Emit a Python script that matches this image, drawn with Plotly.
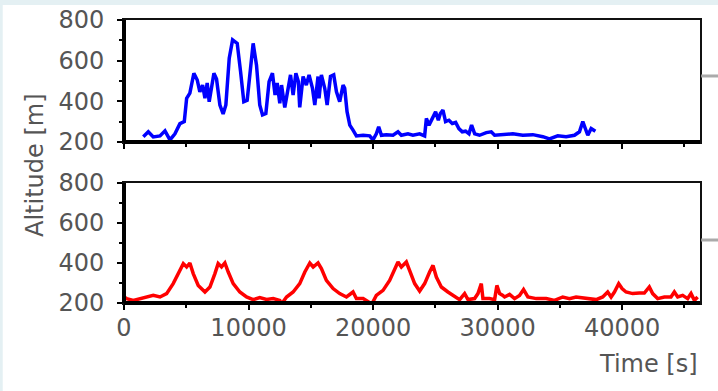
import plotly.graph_objects as go

# ---- data ----
blue_t = [0, 120, None,
          1550, 1950, 2350, 2890, 3290, 3690, 4090, 4490, 4840, 5030, 5290, 5610, 5880,
          6090, 6310, 6500, 6680, 6840, 7220, 7430, 7700, 7960, 8180, 8450, 8720, 9090,
          9360, 9620, 9890, 10100, 10370, 10640, 10900, 11120, 11390, 11650, 11920, 12130,
          12300, 12510, 12650, 12910, 13180, 13370, 13580, 13800, 14000, 14110, 14380,
          14640, 14860, 15130, 15320, 15580, 15660, 15850, 16120, 16310, 16580, 16840,
          17060, 17320, 17590, 17720, 17910, 18130, 18390, 18660, 19200, 19730, 19990,
          20260, 20450, 20670, 21070, 21600, 22000, 22270, 22800, 23200, 23740, 24140,
          24280, 24490, 24760, 25020, 25240, 25400, 25610, 25820, 26090, 26360, 26630,
          26890, 27160, 27430, 27700, 27910, 28160, 28550, 29090, 29490, 29760, 30290,
          30820, 31220, 32020, 32830, 33630, 34160, 34830, 35500, 36170, 36570, 36840,
          37050, 37240, 37510, 37850]
blue_alt = [225, 225, None,
            226, 250, 225, 230, 255, 210, 240, 290, 300, 415, 440, 538, 505,
            447, 480, 415, 490, 398, 538, 510, 382, 338, 382, 612, 702, 685,
            546, 398, 405, 546, 685, 578, 382, 333, 340, 497, 538, 431,
            490, 390, 480, 370, 460, 530, 431, 538, 497, 370, 522,
            480, 530, 465, 382, 522, 415, 530, 464, 382, 522, 530,
            447, 398, 480, 464, 349, 283, 258, 230, 233, 230, 210,
            240, 275, 233, 236, 233, 250, 233, 240, 233, 240, 230,
            316, 283, 316, 349, 307, 340, 357, 300, 307, 291, 296,
            266, 250, 253, 240, 283, 240, 233, 246, 250, 233, 236,
            240, 240, 233, 236, 226, 215, 230, 226, 233, 250, 300,
            258, 233, 266, 253]

red_t = [0, 210, 750, 1280, 1820, 2350, 2890, 3420, 3950, 4360, 4760, 5030, 5290, 5560,
         5960, 6500, 6900, 7300, 7560, 7830, 8100, 8370, 8770, 9300, 9840, 10370, 10900,
         11440, 11980, 12510, 12650, 13050, 13580, 14110, 14520, 14920, 15190, 15580,
         15850, 16250, 16790, 17320, 17860, 18390, 18660, 19200, 19730, 19900, 20260,
         20800, 21330, 21730, 22000, 22270, 22670, 22930, 23340, 23740, 24140, 24540,
         24810, 25080, 25480, 26010, 26410, 26950, 27350, 27620, 28150, 28420, 28690,
         28820, 29350, 29760, 29940, 30160, 30420, 30560, 30960, 31360, 31760, 32080,
         32430, 33100, 33900, 34570, 35230, 35770, 36300, 37100, 37910, 38440, 38840,
         39110, 39380, 39720, 39990, 40310, 40840, 41380, 41780, 42180, 42450, 42850,
         43390, 43920, 44190, 44460, 44860, 45260, 45530, 45800, 46060]
red_alt = [230, 222, 213, 222, 230, 238, 230, 247, 297, 347, 397, 380, 400, 347,
           288, 255, 280, 347, 397, 380, 400, 355, 297, 255, 230, 217, 227,
           218, 222, 213, 195, 230, 255, 297, 355, 400, 380, 400,
           372, 313, 272, 247, 230, 255, 222, 222, 205, 195, 238,
           263, 313, 363, 405, 380, 405, 363, 297, 260, 297, 355,
           388, 330, 280, 255, 238, 217, 247, 217, 222, 247, 297,
           222, 222, 217, 288, 247, 238, 230, 243, 222, 238, 267,
           230, 222, 222, 213, 230, 222, 230, 222, 217, 230, 255,
           230, 255, 297, 272, 255, 247, 250, 250, 280, 247, 222,
           230, 230, 255, 230, 238, 222, 247, 213, 230]

x_ticks = [0, 10000, 20000, 30000, 40000]
y_ticks = [200, 400, 600, 800]

FONT = "DejaVu Sans, Verdana, sans-serif"
FSIZE = 24
TXT = "#555555"

fig = go.Figure()
fig.add_trace(go.Scatter(x=blue_t, y=blue_alt, mode="lines", xaxis="x", yaxis="y",
                         line=dict(color="#0000ff", width=3.5), connectgaps=False,
                         showlegend=False, hoverinfo="skip"))
fig.add_trace(go.Scatter(x=red_t, y=red_alt, mode="lines", xaxis="x2", yaxis="y2",
                         line=dict(color="#ff0000", width=3.5), showlegend=False,
                         hoverinfo="skip"))

xcommon = dict(range=[0, 46250], showline=True, linecolor="#111", linewidth=2, mirror=True,
               showgrid=False, zeroline=False, ticks="outside", ticklen=5, tickwidth=2,
               tickcolor="black", tickvals=x_ticks, tickformat="d", automargin=False,
               minor=dict(dtick=5000, tick0=0, ticks="outside", ticklen=3, tickwidth=2,
                          tickcolor="black", showgrid=False),
               tickfont=dict(family=FONT, size=FSIZE, color=TXT))
ycommon = dict(range=[200, 800], showline=True, linecolor="#111", linewidth=2, mirror=True,
               showgrid=False, zeroline=False, ticks="outside", ticklen=5, tickwidth=2,
               tickcolor="black", tickvals=y_ticks, automargin=False,
               minor=dict(dtick=100, tick0=0, ticks="outside", ticklen=3, tickwidth=2,
                          tickcolor="black", showgrid=False),
               tickfont=dict(family=FONT, size=FSIZE, color=TXT), ticklabelstandoff=8)

fig.update_layout(
    width=718, height=391,
    margin=dict(l=124, r=18, t=20, b=88, autoexpand=False),
    paper_bgcolor="#e4f0f3", plot_bgcolor="white",
    xaxis=dict(xcommon, domain=[0, 1], anchor="y", showticklabels=False),
    yaxis=dict(ycommon, domain=[0.569, 1], anchor="x"),
    xaxis2=dict(xcommon, domain=[0, 1], anchor="y2", ticklabelstandoff=-3),
    yaxis2=dict(ycommon, domain=[0, 0.424], anchor="x2"),
    font=dict(family=FONT, color=TXT),
)

shapes = [
    # white page panel
    dict(type="rect", xref="paper", yref="paper", x0=-0.2105, x1=1.1, y0=-0.5, y1=1.053,
         fillcolor="white", line=dict(width=0), layer="below"),
]
for xa, ya in (("x", "y"), ("x2", "y2")):
    shapes += [
        dict(type="line", xref=f"{xa} domain", yref=f"{ya} domain", x0=0, x1=0, y0=0, y1=1,
             line=dict(color="black", width=4)),
        dict(type="line", xref=f"{xa} domain", yref=f"{ya} domain", x0=0, x1=1, y0=0, y1=0,
             line=dict(color="black", width=4)),
    ]
shapes += [
    dict(type="line", xref="x domain", yref="y domain", x0=1.002, x1=1.04, y0=0.541, y1=0.541,
         line=dict(color="#aaaaaa", width=3)),
    dict(type="line", xref="x2 domain", yref="y2 domain", x0=1.002, x1=1.04, y0=0.525, y1=0.525,
         line=dict(color="#aaaaaa", width=3)),
]
fig.update_layout(shapes=shapes)

fig.add_annotation(text="Altitude [m]", xref="paper", yref="paper", x=-0.1545, y=0.4876,
                   textangle=-90, showarrow=False, xanchor="center", yanchor="middle",
                   font=dict(family=FONT, size=FSIZE, color=TXT))
fig.add_annotation(text="Time [s]", xref="paper", yref="paper", x=1.0, y=-0.2155,
                   showarrow=False, xanchor="right", yanchor="middle",
                   font=dict(family=FONT, size=FSIZE, color=TXT))

fig.write_html("out.html", config={"displayModeBar": False},
               post_script="document.body.style.margin='0';document.body.style.overflow='hidden';")
